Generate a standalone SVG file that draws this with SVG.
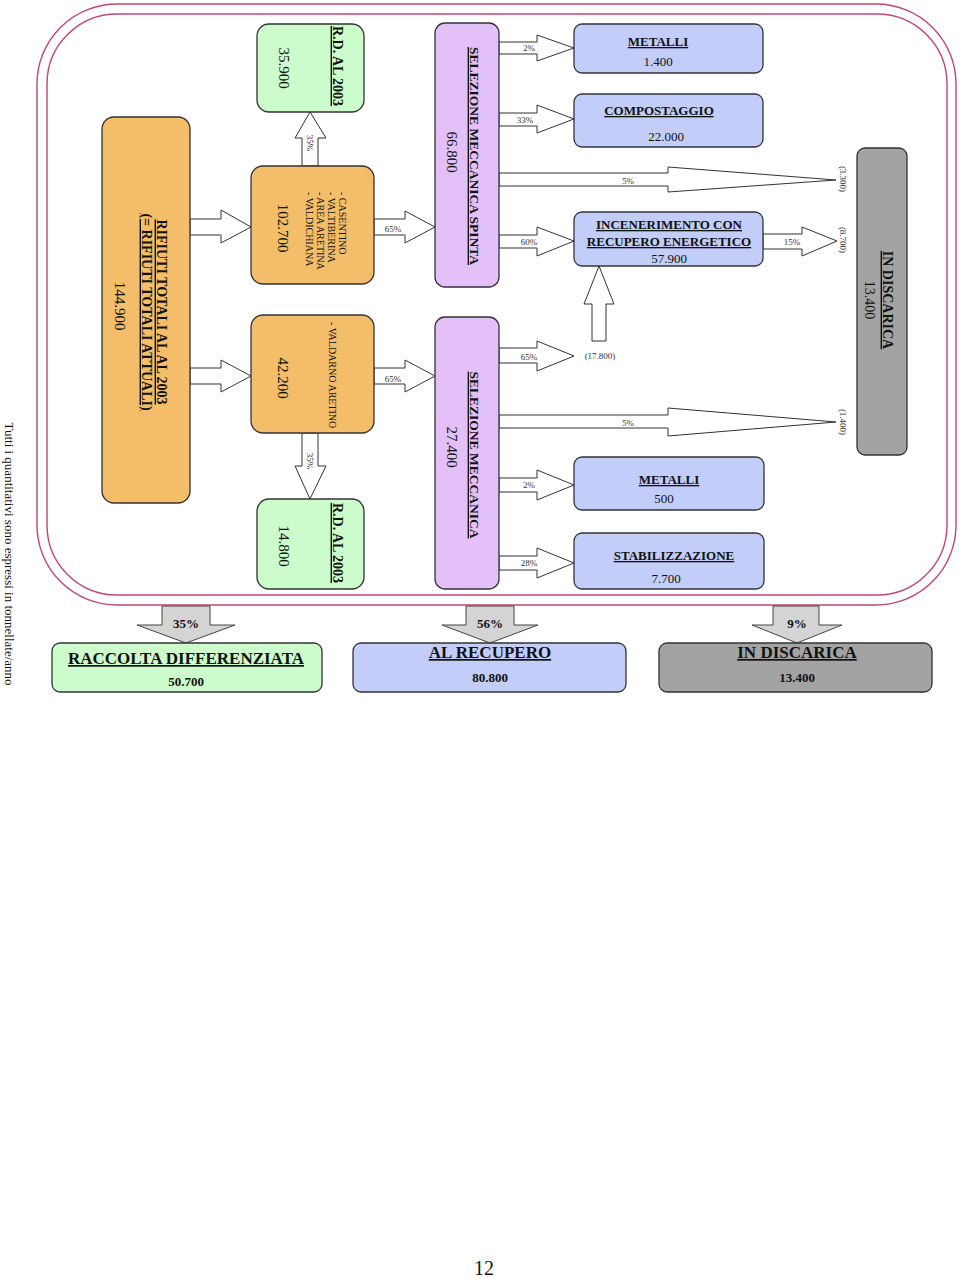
<svg xmlns="http://www.w3.org/2000/svg" width="960" height="1277" viewBox="0 0 960 1277">
<style>
text{font-family:"Liberation Serif","Times New Roman",serif;fill:#111}
.b{font-weight:bold;text-decoration:underline}
.or{fill:#F4BD69;stroke:#333;stroke-width:1.3}
.gr{fill:#CCFCCB;stroke:#333;stroke-width:1.3}
.pu{fill:#E3C1F8;stroke:#333;stroke-width:1.3}
.bl{fill:#C3CDF9;stroke:#333;stroke-width:1.3}
.gy{fill:#A3A3A3;stroke:#333;stroke-width:1.3}
.ar{fill:#fff;stroke:#333;stroke-width:1}
.ag{fill:#D4D4D4;stroke:#444;stroke-width:1}
.fr{fill:none;stroke:#C0486E;stroke-width:1.4}
.sm{font-size:9px;fill:#333}
.m{text-anchor:middle}
</style>
<rect width="960" height="1277" fill="#fff"/>
<g id="frame">
<rect class="fr" x="37" y="4" width="919" height="601" rx="80" ry="80"/>
<rect class="fr" x="47" y="14" width="900" height="581" rx="70" ry="70"/>
</g>
<text id="note" transform="translate(5,554) rotate(90)" class="m" font-size="13">Tutti i quantitativi sono espressi in tonnellate/anno</text>
<g id="connectors">
<polygon class="ar" points="190,219 221,219 221,210 251,227 221,243 221,235 190,235"/>
<polygon class="ar" points="190,368 221,368 221,360 251,376 221,392 221,384 190,384"/>
<polygon class="ar" points="302,166 302,138 295,138 310,112 326,138 318,138 318,166"/>
<polygon class="ar" points="302,433 302,466 295,466 310,499 326,466 318,466 318,433"/>
<polygon class="ar" points="374,219 405,219 405,211 435,227 405,243 405,235 374,235"/>
<polygon class="ar" points="374,368 405,368 405,360 435,376 405,392 405,384 374,384"/>
<polygon class="ar" points="499,42 537,42 537,35 574,48 537,61 537,54 499,54"/>
<polygon class="ar" points="499,113 537,113 537,105 574,119 537,133 537,126 499,126"/>
<polygon class="ar" points="499,173 668,173 668,167 836,180 668,192 668,186 499,186"/>
<polygon class="ar" points="499,235 537,235 537,227 574,241 537,256 537,248 499,248"/>
<polygon class="ar" points="499,348 537,348 537,341 574,356 537,371 537,363 499,363"/>
<polygon class="ar" points="499,415 668,415 668,408 836,422 668,436 668,428 499,428"/>
<polygon class="ar" points="499,478 537,478 537,470 574,485 537,500 537,492 499,492"/>
<polygon class="ar" points="499,556 537,556 537,548 574,563 537,578 537,570 499,570"/>
<polygon class="ar" points="763,234 802,234 802,227 837,241 802,256 802,249 763,249"/>
<polygon class="ar" points="592,341 592,304 584,304 599,266 614,304 606,304 606,341"/>
<polygon class="ag" points="162,606 210,606 210,625 235,625 186,643 137,625 162,625"/>
<polygon class="ag" points="466,606 514,606 514,625 538,625 490,643 442,625 466,625"/>
<polygon class="ag" points="773,606 819,606 819,625 842,625 797,643 752,625 773,625"/>
<text class="sm m" transform="translate(307,143) rotate(90)" font-size="8">35%</text>
<text class="sm m" transform="translate(307,461) rotate(90)" font-size="8">35%</text>
<text class="sm m" x="393" y="232">65%</text>
<text class="sm m" x="393" y="382">65%</text>
<text class="sm m" x="529" y="51">2%</text>
<text class="sm m" x="525" y="123">33%</text>
<text class="sm m" x="628" y="184">5%</text>
<text class="sm m" x="529" y="245">60%</text>
<text class="sm m" x="529" y="360">65%</text>
<text class="sm m" x="628" y="426">5%</text>
<text class="sm m" x="529" y="488">2%</text>
<text class="sm m" x="529" y="566">28%</text>
<text class="sm m" x="792" y="245">15%</text>
<text class="sm m" x="600" y="359">(17.800)</text>
<text class="sm m" transform="translate(840,179) rotate(90)">(3.300)</text>
<text class="sm m" transform="translate(840,240) rotate(90)">(8.700)</text>
<text class="sm m" transform="translate(840,422) rotate(90)">(1.400)</text>
<text class="m" x="186" y="628" font-size="13" font-weight="bold">35%</text>
<text class="m" x="490" y="628" font-size="13" font-weight="bold">56%</text>
<text class="m" x="797" y="628" font-size="13" font-weight="bold">9%</text>
</g>
<g id="rifiuti-totali">
<rect class="or" x="102" y="117" width="88" height="386" rx="12"/>
<text class="b m" transform="translate(157,312) rotate(90)" font-size="14">RIFIUTI TOTALI AL AL 2003</text>
<text class="b m" transform="translate(142,312) rotate(90)" font-size="14">(= RIFIUTI TOTALI ATTUALI)</text>
<text class="m" transform="translate(115,306) rotate(90)" font-size="15">144.900</text>
</g>
<g id="area-1">
<rect class="or" x="251" y="166" width="123" height="118" rx="12"/>
<text transform="translate(339,192) rotate(90)" font-size="10">- CASENTINO</text>
<text transform="translate(328,192) rotate(90)" font-size="10">- VALTIBERINA</text>
<text transform="translate(317,192) rotate(90)" font-size="10">- AREA ARETINA</text>
<text transform="translate(306,192) rotate(90)" font-size="10">- VALDICHIANA</text>
<text class="m" transform="translate(278,228) rotate(90)" font-size="15">102.700</text>
</g>
<g id="area-2">
<rect class="or" x="251" y="315" width="123" height="118" rx="12"/>
<text transform="translate(329,322) rotate(90)" font-size="10">- VALDARNO ARETINO</text>
<text class="m" transform="translate(278,378) rotate(90)" font-size="15">42.200</text>
</g>
<g id="rd-1">
<rect class="gr" x="257" y="24" width="107" height="88" rx="12"/>
<text class="b m" transform="translate(333,66) rotate(90)" font-size="14">R.D. AL 2003</text>
<text class="m" transform="translate(279,68) rotate(90)" font-size="15">35.900</text>
</g>
<g id="rd-2">
<rect class="gr" x="257" y="499" width="107" height="90" rx="12"/>
<text class="b m" transform="translate(333,543) rotate(90)" font-size="14">R.D. AL 2003</text>
<text class="m" transform="translate(279,546) rotate(90)" font-size="15">14.800</text>
</g>
<g id="sel-spinta">
<rect class="pu" x="435" y="23" width="64" height="264" rx="10"/>
<text class="b m" transform="translate(470,156) rotate(90)" font-size="13.5">SELEZIONE MECCANICA SPINTA</text>
<text class="m" transform="translate(447,152) rotate(90)" font-size="15">66.800</text>
</g>
<g id="sel-mecc">
<rect class="pu" x="435" y="317" width="64" height="272" rx="10"/>
<text class="b m" transform="translate(470,455) rotate(90)" font-size="13.5">SELEZIONE MECCANICA</text>
<text class="m" transform="translate(447,447) rotate(90)" font-size="15">27.400</text>
</g>
<g id="metalli-1">
<rect class="bl" x="574" y="24" width="189" height="49" rx="8"/>
<text class="b m" x="658" y="46" font-size="13">METALLI</text>
<text class="m" x="658" y="66" font-size="13">1.400</text>
</g>
<g id="compostaggio">
<rect class="bl" x="574" y="94" width="189" height="53" rx="8"/>
<text class="b m" x="659" y="115" font-size="13">COMPOSTAGGIO</text>
<text class="m" x="666" y="141" font-size="13">22.000</text>
</g>
<g id="incenerimento">
<rect class="bl" x="574" y="212" width="189" height="54" rx="8"/>
<text class="b m" x="669" y="229" font-size="13">INCENERIMENTO CON</text>
<text class="b m" x="669" y="246" font-size="13">RECUPERO ENERGETICO</text>
<text class="m" x="669" y="263" font-size="13">57.900</text>
</g>
<g id="metalli-2">
<rect class="bl" x="574" y="457" width="190" height="53" rx="8"/>
<text class="b m" x="669" y="484" font-size="13">METALLI</text>
<text class="m" x="664" y="503" font-size="13">500</text>
</g>
<g id="stabilizzazione">
<rect class="bl" x="574" y="533" width="190" height="56" rx="8"/>
<text class="b m" x="674" y="560" font-size="13">STABILIZZAZIONE</text>
<text class="m" x="666" y="583" font-size="13">7.700</text>
</g>
<g id="discarica-1">
<rect class="gy" x="857" y="148" width="50" height="307" rx="8"/>
<text class="b m" transform="translate(883,300) rotate(90)" font-size="14">IN DISCARICA</text>
<text class="m" transform="translate(865,300) rotate(90)" font-size="14">13.400</text>
</g>
<g id="raccolta">
<rect class="gr" x="52" y="643" width="270" height="49" rx="8"/>
<text class="b m" x="186" y="664" font-size="17">RACCOLTA DIFFERENZIATA</text>
<text class="m" x="186" y="686" font-size="13" font-weight="bold">50.700</text>
</g>
<g id="recupero">
<rect class="bl" x="353" y="643" width="273" height="49" rx="8"/>
<text class="b m" x="490" y="658" font-size="17">AL RECUPERO</text>
<text class="m" x="490" y="682" font-size="13" font-weight="bold">80.800</text>
</g>
<g id="discarica-2">
<rect class="gy" x="659" y="643" width="273" height="49" rx="8"/>
<text class="b m" x="797" y="658" font-size="17">IN DISCARICA</text>
<text class="m" x="797" y="682" font-size="13" font-weight="bold">13.400</text>
</g>
<text id="page" class="m" x="484" y="1275" font-size="20">12</text>
</svg>
